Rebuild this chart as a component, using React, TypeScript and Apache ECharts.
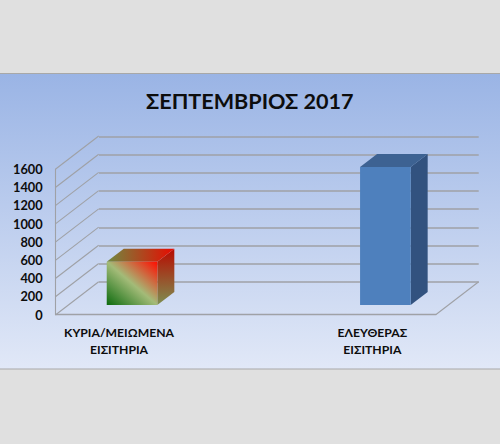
import React, { useEffect, useRef } from "react";
import * as echarts from "echarts";

const title = "ΣΕΠΤΕΜΒΡΙΟΣ 2017";
const categories = ["ΚΥΡΙΑ/ΜΕΙΩΜΕΝΑ\nΕΙΣΙΤΗΡΙΑ", "", "ΕΛΕΥΘΕΡΑΣ\nΕΙΣΙΤΗΡΙΑ"];
const ticketValues = [476, 1516];
const ticketCategoryIndex = [0, 2];
const wallTicks = [0, 200, 400, 600, 800, 1000, 1200, 1400, 1600];

const FONT = "Lato, 'Noto Sans', sans-serif";
const GRID_COLOR = "#9fa1a6";
const DX = 43;
const DY = -33;

const grad = (x: number, y: number, x2: number, y2: number, stops: [number, string][]) =>
  new echarts.graphic.LinearGradient(x, y, x2, y2, stops.map(([offset, color]) => ({ offset, color })));

const barPalettes = [
  {
    front: grad(0, 1, 1, 0, [[0, "#0c6b0e"], [0.5, "#a3bb78"], [1, "#ff0c00"]]),
    top: grad(0, 0, 1, 0, [[0, "#6f8a40"], [1, "#e80a00"]]),
    side: grad(0, 0, 0, 1, [[0, "#b80a00"], [1, "#7d8f50"]]),
  },
  { front: "#4e80bd", top: "#3d6292", side: "#32527f" },
];

export default function App() {
  const ref = useRef<HTMLDivElement>(null);
  useEffect(() => {
    document.body.style.margin = "0";
    const chart = echarts.init(ref.current!, undefined, { renderer: "svg" });
    const axisLabel = { show: false };
    chart.setOption({
      animation: false,
      backgroundColor: "#e0e0e0",
      textStyle: { fontFamily: FONT },
      title: {
        text: title,
        left: 141,
        top: 85,
        textStyle: { fontFamily: FONT, fontSize: 21.6, fontWeight: "bold", color: "#0d0d0d" },
      },
      graphic: [
        {
          type: "rect",
          z: -100,
          silent: true,
          shape: { x: -2, y: 73.5, width: 504, height: 295.5 },
          style: {
            fill: grad(0, 0, 0, 1, [[0, "#9ab4e5"], [1, "#e1e8f7"]]),
            stroke: "#a8a8a8",
            lineWidth: 1,
          },
        },
      ],
      grid: [
        { left: 55.7, right: 64.3, top: 169, bottom: 129.3 },
        { left: 99, right: 21.3, top: 136.7, bottom: 162.3 },
      ],
      xAxis: [
        {
          type: "category",
          gridIndex: 0,
          data: categories,
          axisTick: { show: false },
          axisLine: { show: true, lineStyle: { color: GRID_COLOR, width: 1.4 } },
          axisLabel: {
            interval: 0,
            margin: 9,
            fontFamily: FONT,
            fontSize: 12.2,
            fontWeight: "bold",
            color: "#0d0d0d",
            lineHeight: 17.4,
          },
        },
        { type: "category", gridIndex: 1, data: categories, axisTick: { show: false }, axisLine: { show: false }, axisLabel },
      ],
      yAxis: [
        {
          type: "value",
          gridIndex: 0,
          min: 0,
          max: 1600,
          interval: 200,
          splitLine: { show: false },
          axisTick: { show: false },
          axisLine: { show: true, lineStyle: { color: GRID_COLOR, width: 1.1 } },
          axisLabel: {
            margin: 13,
            fontFamily: FONT,
            fontSize: 12.8,
            fontWeight: "bold",
            color: "#0d0d0d",
            formatter: (v: number) => String(v),
          },
        },
        {
          type: "value",
          gridIndex: 1,
          min: 0,
          max: 1600,
          interval: 200,
          splitLine: { show: true, lineStyle: { color: GRID_COLOR, width: 1.5 } },
          axisTick: { show: false },
          axisLine: { show: false },
          axisLabel,
        },
      ],
      series: [
        {
          type: "custom",
          xAxisIndex: 0,
          yAxisIndex: 0,
          data: wallTicks.map((t) => [0, t]),
          silent: true,
          z: 1,
          renderItem: (_p: any, api: any) => {
            const rect = _p.coordSys;
            const y = api.coord([0, api.value(1)])[1];
            return {
              type: "line",
              shape: { x1: rect.x, y1: y, x2: rect.x + DX, y2: y + DY },
              style: { stroke: GRID_COLOR, lineWidth: 1.1 },
            };
          },
        },
        {
          type: "custom",
          xAxisIndex: 0,
          yAxisIndex: 0,
          data: [[2, 0]],
          silent: true,
          z: 1,
          renderItem: (p: any) => {
            const r = p.coordSys;
            const by = r.y + r.height;
            return {
              type: "line",
              shape: { x1: r.x + r.width, y1: by, x2: r.x + r.width + DX, y2: by + DY },
              style: { stroke: GRID_COLOR, lineWidth: 1.1 },
            };
          },
        },
        {
          type: "custom",
          xAxisIndex: 0,
          yAxisIndex: 0,
          silent: true,
          z: 5,
          data: ticketValues.map((v, i) => [ticketCategoryIndex[i], v, i]),
          renderItem: (_p: any, api: any) => {
            const cat = api.value(0);
            const val = api.value(1);
            const pal = barPalettes[api.value(2)];
            const w = 50.6;
            const ox = 13;
            const oy = -9.7;
            const dx = 17;
            const dy = -13;
            const [cx, yTop] = api.coord([cat, val]);
            const [, yBase] = api.coord([cat, 0]);
            const x0 = cx + ox - w / 2;
            const x1 = x0 + w;
            const t = yTop + oy;
            const b = yBase + oy;
            return {
              type: "group",
              children: [
                {
                  type: "polygon",
                  shape: { points: [[x1, t], [x1 + dx, t + dy], [x1 + dx, b + dy], [x1, b]] },
                  style: { fill: pal.side },
                },
                {
                  type: "polygon",
                  shape: { points: [[x0, t], [x0 + dx, t + dy], [x1 + dx, t + dy], [x1, t]] },
                  style: { fill: pal.top },
                },
                { type: "rect", shape: { x: x0, y: t, width: w, height: b - t }, style: { fill: pal.front } },
              ],
            };
          },
        },
      ],
    });
    return () => chart.dispose();
  }, []);
  return <div ref={ref} style={{ width: 500, height: 444 }} />;
}
